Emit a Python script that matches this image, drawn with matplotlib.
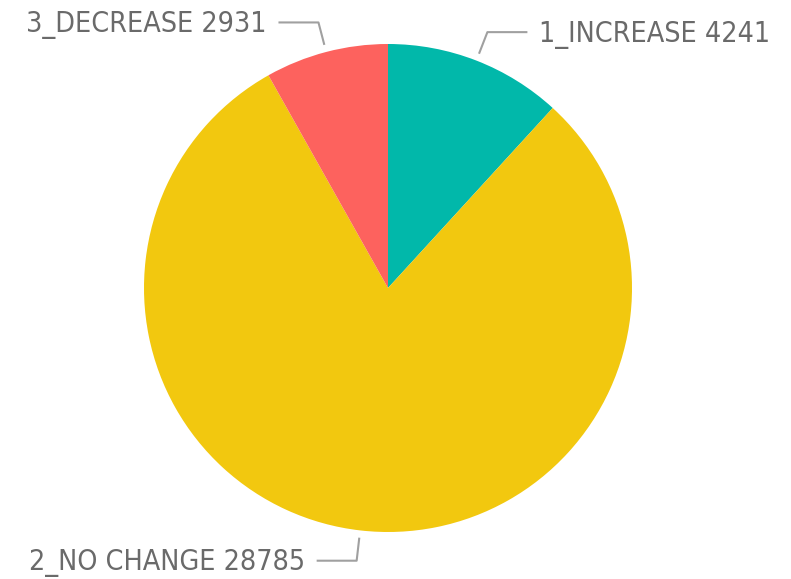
import numpy as np
import matplotlib
matplotlib.use("Agg")
import matplotlib.pyplot as plt

# categories and counts
labels = ["1_INCREASE", "2_NO CHANGE", "3_DECREASE"]
counts = [4241, 28785, 2931]
colors = ["#01B8AA", "#F2C80F", "#FD625E"]

W, H = 791, 579
CX, CY, R = 388, H - 288, 244
TEXT_COLOR = "#6a6a6a"
LINE_COLOR = "#a0a0a0"

fig = plt.figure(figsize=(W / 100, H / 100), dpi=100)
ax = fig.add_axes([0, 0, 1, 1])

wedges, _ = ax.pie(counts, colors=colors, startangle=90, counterclock=False,
                   center=(CX, CY), radius=R, frame=True,
                   wedgeprops=dict(linewidth=0))
ax.set_xlim(0, W)
ax.set_ylim(0, H)
ax.set_aspect("equal")
ax.axis("off")

# leader line + label for each slice
for w, lab, n in zip(wedges, labels, counts):
    mid = np.deg2rad((w.theta1 + w.theta2) / 2)
    c, s = np.cos(mid), np.sin(mid)
    x0, y0 = CX + R * 1.03 * c, CY + R * 1.03 * s
    x1, y1 = CX + R * 1.125 * c, CY + R * 1.125 * s
    side = 1 if c >= 0 else -1
    x2 = x1 + side * 40
    ax.plot([x0, x1, x2], [y0, y1, y1], color=LINE_COLOR, lw=1.5,
            solid_capstyle="butt")
    ax.text(x2 + side * 12, y1 - 2.5, f"{lab} {n}", color=TEXT_COLOR,
            fontsize=20.5, fontstretch="condensed",
            ha="left" if side > 0 else "right", va="center")

fig.savefig("out.png", dpi=100, facecolor="white")
